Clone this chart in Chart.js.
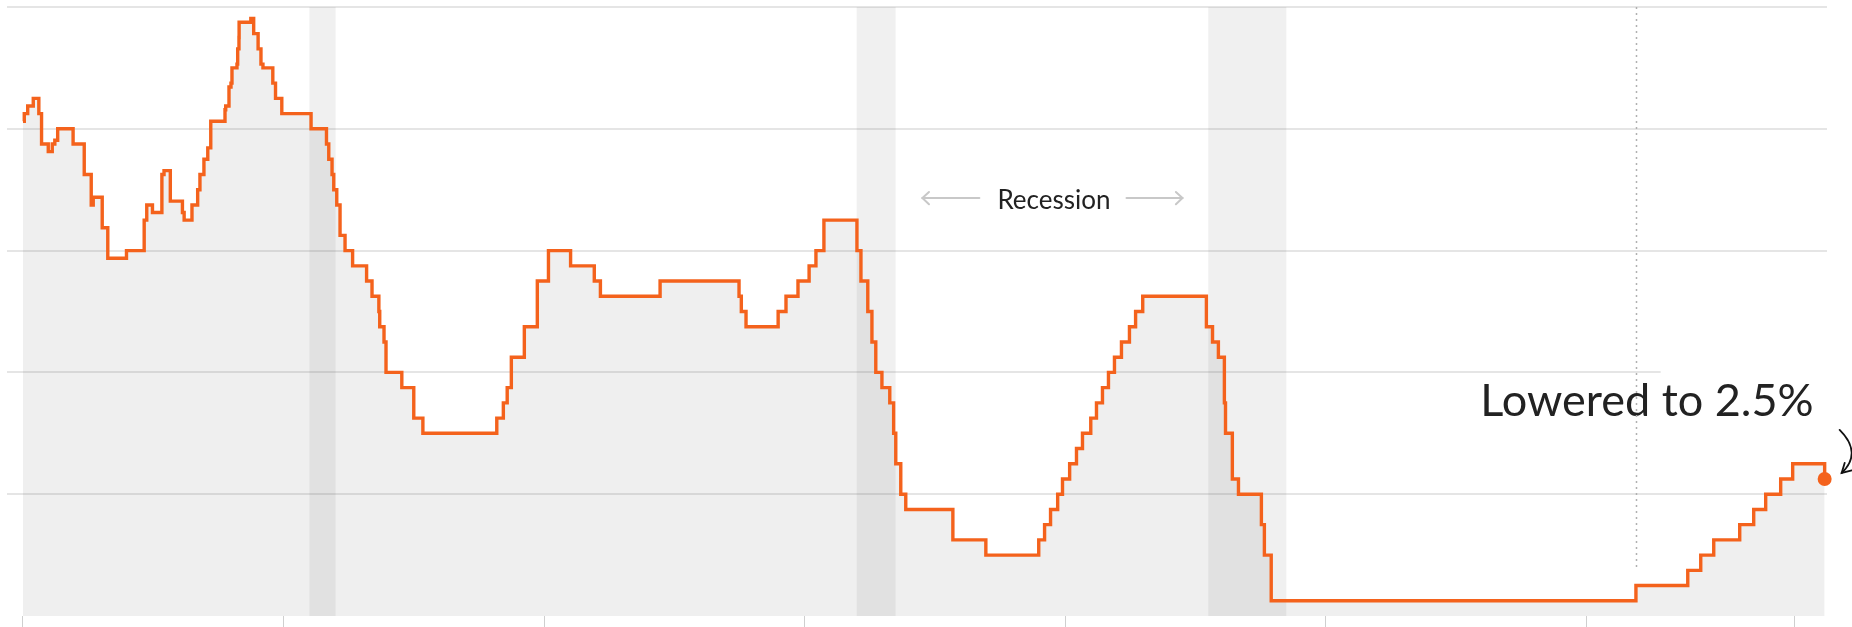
<!DOCTYPE html>
<html>
<head>
<meta charset="utf-8">
<script src="https://cdn.jsdelivr.net/npm/chart.js@4/dist/chart.umd.min.js"></script>
<style>
  html, body { margin: 0; padding: 0; background: #ffffff; }
  #wrap { width: 1852px; height: 627px; }
</style>
</head>
<body>
<div id="wrap"><canvas id="c" width="1852" height="627"></canvas></div>
<script>
// ---- Data (federal funds target rate) ----
const changeDates = [
  '1985-01-01','1985-01-10','1985-02-03','1985-03-14','1985-04-22','1985-05-11','1985-06-27','1985-07-25','1985-08-12','1985-09-01','1985-12-18',
  '1986-03-06','1986-04-24','1986-05-08','1986-07-10','1986-08-18','1986-12-27',
  '1987-04-30','1987-05-18','1987-06-27','1987-09-01','1987-09-16','1987-10-30',
  '1988-01-23','1988-02-04','1988-03-30','1988-05-09','1988-05-25','1988-06-22','1988-07-19','1988-08-09','1988-11-17','1988-11-22','1988-12-15','1988-12-29',
  '1989-01-05','1989-02-09','1989-02-14','1989-02-23','1989-02-24','1989-05-17','1989-06-06','1989-07-07','1989-07-27','1989-08-10','1989-10-18','1989-11-06','1989-12-20',
  '1990-07-13','1990-10-29','1990-11-14','1990-12-07','1990-12-19',
  '1991-01-09','1991-02-01','1991-03-08','1991-04-30','1991-08-06','1991-09-13','1991-10-31','1991-11-06','1991-12-06','1991-12-20',
  '1992-04-09','1992-07-02','1992-09-04',
  '1994-02-04','1994-03-22','1994-04-18','1994-05-17','1994-08-16','1994-11-15',
  '1995-02-01','1995-07-06','1995-12-19','1996-01-31','1997-03-25',
  '1998-09-29','1998-10-15','1998-11-17',
  '1999-06-30','1999-08-24','1999-11-16','2000-02-02','2000-03-21','2000-05-16',
  '2001-01-03','2001-01-31','2001-03-20','2001-04-18','2001-05-15','2001-06-27','2001-08-21','2001-09-17','2001-10-02','2001-11-06','2001-12-11',
  '2002-11-06','2003-06-25',
  '2004-06-30','2004-08-10','2004-09-21','2004-11-10','2004-12-14',
  '2005-02-02','2005-03-22','2005-05-03','2005-06-30','2005-08-09','2005-09-20','2005-11-01','2005-12-13',
  '2006-01-31','2006-03-28','2006-05-10','2006-06-29',
  '2007-09-18','2007-10-31','2007-12-11',
  '2008-01-22','2008-01-30','2008-03-18','2008-04-30','2008-10-08','2008-10-29','2008-12-16',
  '2015-12-16','2016-12-14','2017-03-15','2017-06-14','2017-12-13',
  '2018-03-21','2018-06-13','2018-09-26','2018-12-19','2019-07-31'
];
const targetRates = [
  8.125,8.25,8.375,8.5,8.25,7.75,7.625,7.75,7.8125,8.0,7.75,
  7.25,6.75,6.875,6.375,5.875,6.0,
  6.5,6.75,6.625,7.25,7.3125,6.8125,
  6.625,6.5,6.75,7.0,7.25,7.5,7.6875,8.125,8.3125,8.375,8.6875,8.75,
  9.0,9.0625,9.3125,9.5,9.75,9.8125,9.5625,9.3125,9.0625,9.0,8.75,8.5,8.25,
  8.0,7.75,7.5,7.25,7.0,
  6.75,6.25,6.0,5.75,5.5,5.25,5.0,4.75,4.5,4.0,
  3.75,3.25,3.0,
  3.25,3.5,3.75,4.25,4.75,5.5,
  6.0,5.75,5.5,5.25,5.5,
  5.25,5.0,4.75,
  5.0,5.25,5.5,5.75,6.0,6.5,
  6.0,5.5,5.0,4.5,4.0,3.75,3.5,3.0,2.5,2.0,1.75,
  1.25,1.0,
  1.25,1.5,1.75,2.0,2.25,
  2.5,2.75,3.0,3.25,3.5,3.75,4.0,4.25,
  4.5,4.75,5.0,5.25,
  4.75,4.5,4.25,
  3.5,3.0,2.25,2.0,1.5,1.0,0.25,
  0.5,0.75,1.0,1.25,1.5,
  1.75,2.0,2.25,2.5,2.25
];
const xTickYears = [1985, 1990, 1995, 2000, 2005, 2010, 2015, 2019];
const yTickValues = [0, 2, 4, 6, 8, 10];
const recessionStarts = ['1990-07-01', '2001-01-01', '2007-10-01'];
const recessionEnds   = ['1991-01-01', '2001-10-01', '2009-04-01'];
const liftoffDate = '2015-12-16';
const recessionLabel = 'Recession';
const endLabel = 'Lowered to 2.5%';

// ---- helpers ----
function toYear(s) {
  const p = s.split('-').map(Number);
  const start = Date.UTC(p[0], 0, 1), end = Date.UTC(p[0] + 1, 0, 1);
  return p[0] + (Date.UTC(p[0], p[1] - 1, p[2]) - start) / (end - start);
}
const ORANGE = '#f4621c';
const points = changeDates.map((d, i) => ({ x: toYear(d), y: targetRates[i] }));
const lastIdx = points.length - 1;

function arrowHead(ctx, tx, ty, dirx, diry, len, ang) {
  const a = Math.atan2(diry, dirx);
  ctx.beginPath();
  ctx.moveTo(tx - len * Math.cos(a - ang), ty - len * Math.sin(a - ang));
  ctx.lineTo(tx, ty);
  ctx.lineTo(tx - len * Math.cos(a + ang), ty - len * Math.sin(a + ang));
  ctx.stroke();
}

const annot = {
  id: 'annot',
  beforeDatasetsDraw(chart) {
    const { ctx, chartArea: a, scales: { x, y } } = chart;
    ctx.save();
    ctx.fillStyle = 'rgba(0,0,0,0.06)';
    recessionStarts.forEach((s, i) => {
      const x0 = x.getPixelForValue(toYear(s));
      const x1 = x.getPixelForValue(toYear(recessionEnds[i]));
      ctx.fillRect(x0, a.top, x1 - x0, a.bottom - a.top);
    });
    // gap in the 4% gridline behind the end label
    const dot = chart.getDatasetMeta(0).data[lastIdx];
    const gy = y.getPixelForValue(4);
    ctx.fillStyle = '#ffffff';
    ctx.fillRect(dot.x - 164, gy - 2, a.right - (dot.x - 164) + 2, 4);
    ctx.restore();
  },
  afterDatasetsDraw(chart) {
    const { ctx, chartArea: a, scales: { x, y } } = chart;
    const dot = chart.getDatasetMeta(0).data[lastIdx];
    ctx.save();
    // Recession label with arrows
    const midX = (x.getPixelForValue(toYear(recessionEnds[1])) + x.getPixelForValue(toYear(recessionStarts[2]))) / 2 + 2;
    const baseY = y.getPixelForValue(6.69);
    ctx.font = '26px Lato';
    ctx.fillStyle = '#222222';
    ctx.textAlign = 'center';
    ctx.textBaseline = 'alphabetic';
    ctx.fillText(recessionLabel, midX, baseY);
    const tw = ctx.measureText(recessionLabel).width;
    const ay = baseY - 10.5;
    ctx.strokeStyle = '#c8c8c8';
    ctx.lineWidth = 2;
    ctx.lineCap = 'round';
    const l1 = midX - tw / 2 - 18, l0 = l1 - 57;
    ctx.beginPath(); ctx.moveTo(l0, ay); ctx.lineTo(l1, ay); ctx.stroke();
    arrowHead(ctx, l0, ay, -1, 0, 9, 0.75);
    const r0 = midX + tw / 2 + 16, r1 = r0 + 56;
    ctx.beginPath(); ctx.moveTo(r0, ay); ctx.lineTo(r1, ay); ctx.stroke();
    arrowHead(ctx, r1, ay, 1, 0, 9, 0.75);

    // End label
    ctx.font = '45px Lato';
    ctx.fillStyle = '#222222';
    ctx.textAlign = 'right';
    ctx.fillText(endLabel, dot.x - 11, dot.y - 63);

    // dotted liftoff line
    const lx = Math.round(x.getPixelForValue(toYear(liftoffDate))) + 0.5;
    ctx.strokeStyle = '#b0b0b0';
    ctx.lineWidth = 1.5;
    ctx.lineCap = 'butt';
    ctx.setLineDash([2, 4]);
    ctx.beginPath(); ctx.moveTo(lx, a.top); ctx.lineTo(lx, y.getPixelForValue(0.8)); ctx.stroke();
    ctx.setLineDash([]);

    // curved black arrow to the dot
    const p0x = dot.x + 15, p0y = dot.y - 49;
    const p1x = dot.x + 38, p1y = dot.y - 26;
    const p2x = dot.x + 17, p2y = dot.y - 6;
    ctx.strokeStyle = '#111111';
    ctx.lineWidth = 1.8;
    ctx.lineCap = 'round';
    ctx.beginPath(); ctx.moveTo(p0x, p0y); ctx.quadraticCurveTo(p1x, p1y, p2x, p2y); ctx.stroke();
    arrowHead(ctx, p2x, p2y, p2x - p1x, p2y - p1y, 10.5, 0.52);
    ctx.restore();
  }
};

new Chart(document.getElementById('c'), {
  type: 'line',
  data: {
    datasets: [{
      data: points,
      stepped: 'before',
      clip: false,
      borderColor: ORANGE,
      borderWidth: 3.4,
      borderJoinStyle: 'miter',
      borderCapStyle: 'butt',
      fill: 'origin',
      backgroundColor: 'rgba(0,0,0,0.063)',
      pointRadius: c => (c.dataIndex === lastIdx ? 7 : 0),
      pointHoverRadius: c => (c.dataIndex === lastIdx ? 7 : 0),
      pointBackgroundColor: ORANGE,
      pointBorderWidth: 0,
      tension: 0
    }]
  },
  options: {
    responsive: false,
    animation: false,
    events: [],
    layout: { padding: { left: 6, right: 25, top: 5, bottom: 0 } },
    plugins: { legend: { display: false }, tooltip: { enabled: false } },
    scales: {
      x: {
        type: 'linear',
        min: 1984.6931,
        max: 2019.6231,
        afterBuildTicks: s => { s.ticks = xTickYears.map(v => ({ value: v })); },
        ticks: { display: false },
        grid: { drawOnChartArea: false, drawTicks: true, tickLength: 11, color: '#cfcfcf', tickColor: '#cfcfcf', tickWidth: 1 },
        border: { display: false }
      },
      y: {
        min: 0,
        max: 10,
        afterBuildTicks: s => { s.ticks = yTickValues.map(v => ({ value: v })); },
        ticks: { display: false },
        grid: {
          drawTicks: false,
          lineWidth: 2,
          color: c => (c.tick && c.tick.value === 0 ? 'rgba(0,0,0,0)' : 'rgba(0,0,0,0.1)')
        },
        border: { display: false }
      }
    }
  },
  plugins: [annot]
});
</script>
</body>
</html>
